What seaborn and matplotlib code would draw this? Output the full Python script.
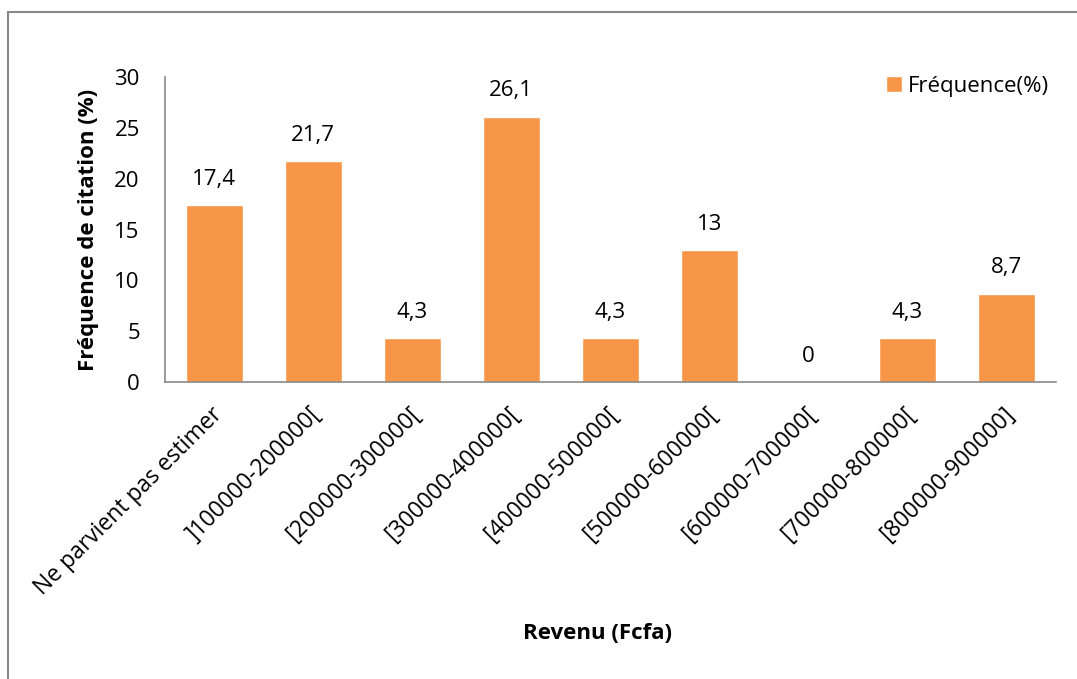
import matplotlib
matplotlib.use("Agg")
import matplotlib.pyplot as plt
import matplotlib.transforms as mtrans
import seaborn as sns
import pandas as pd
from matplotlib.patches import Rectangle

categories = ["Ne parvient pas estimer", "]100000-200000[", "[200000-300000[",
              "[300000-400000[", "[400000-500000[", "[500000-600000[",
              "[600000-700000[", "[700000-800000[", "[800000-900000]"]
values = [17.4, 21.7, 4.3, 26.1, 4.3, 13, 0, 4.3, 8.7]
labels = ["17,4", "21,7", "4,3", "26,1", "4,3", "13", "0", "4,3", "8,7"]
y_ticks = [0, 5, 10, 15, 20, 25, 30]
series_name = "Fréquence(%)"

sns.set_theme(style="white")
plt.rcParams['font.family'] = ['Open Sans', 'DejaVu Sans']
plt.rcParams['text.color'] = 'black'
plt.rcParams['axes.labelcolor'] = 'black'
plt.rcParams['xtick.color'] = 'black'
plt.rcParams['ytick.color'] = 'black'

color = "#F79646"
fs = 16
df = pd.DataFrame({"cat": categories, "val": values, "s": series_name})

fig = plt.figure(figsize=(10.77, 6.79), dpi=100)
ax = fig.add_axes([0.153, 0.4374, 0.8275, 0.4492])
sns.barplot(data=df, x="cat", y="val", hue="s", palette=[color], width=0.58,
            ax=ax, saturation=1)

for i, (v, t) in enumerate(zip(values, labels)):
    ax.text(i, v + 1.5, t, ha="center", va="bottom", fontsize=fs, color="black")

ax.set_ylim(0, 30)
ax.set_yticks(y_ticks)
ax.set_yticklabels([str(t) for t in y_ticks], fontsize=fs)
ax.set_xlim(-0.5, len(categories) - 0.5)
ax.set_xticks(range(len(categories)))
ax.set_xticklabels(categories, rotation=45, ha="right", rotation_mode="anchor", fontsize=16.5)
ax.tick_params(axis="x", length=0, pad=15)
ax.tick_params(axis="y", length=0, pad=18)
offset = mtrans.ScaledTranslation(-4 / 100, 0, fig.dpi_scale_trans)
for lbl in ax.get_xticklabels():
    lbl.set_transform(lbl.get_transform() + offset)

for s in ["top", "right"]:
    ax.spines[s].set_visible(False)
for s in ["left", "bottom"]:
    ax.spines[s].set_color("#898989")
    ax.spines[s].set_linewidth(1.2)

ax.set_xlabel("Revenu (Fcfa)", fontsize=fs, fontweight="bold", color="black")
ax.set_ylabel("Fréquence de citation (%)", fontsize=fs, fontweight="bold", labelpad=11,
              color="black")
ax.xaxis.set_label_coords(0.485, -0.79)

leg = ax.legend(loc="upper right", bbox_to_anchor=(1.015, 1.07), frameon=False,
                fontsize=fs, handlelength=0.7, handleheight=0.7, handletextpad=0.3)
for t in leg.get_texts():
    t.set_color("black")

fig.patches.append(Rectangle((8 / 1077, -0.1), 1.2, 1 - 12 / 679 + 0.1,
                             transform=fig.transFigure, fill=False,
                             edgecolor="#898989", linewidth=1.5))

fig.savefig("out.png", dpi=100)
